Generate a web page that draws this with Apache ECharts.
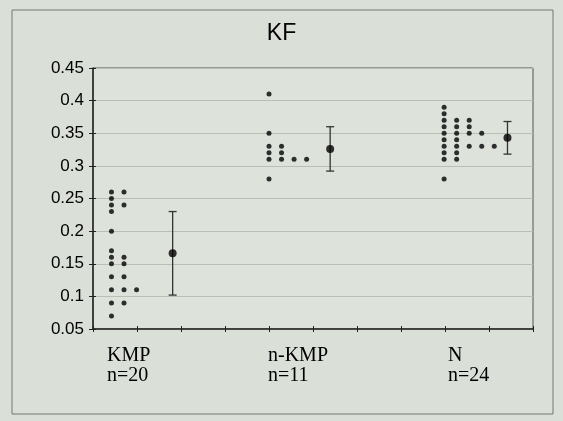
<!DOCTYPE html>
<html>
<head>
<meta charset="utf-8">
<script src="https://cdn.jsdelivr.net/npm/echarts@6/dist/echarts.min.js"></script>
<style>
	html, body { margin: 0; padding: 0; background: #e3e6e0; }
	#chart { width: 563px; height: 421px; }
</style>
</head>
<body>
<div id="chart"></div>
<script type="text/javascript">
	// values
	var groupNames = ['KMP', 'n-KMP', 'N'];
	var groupCounts = ['n=20', 'n=11', 'n=24'];
	var kmpValues = [0.26, 0.26, 0.25, 0.24, 0.24, 0.23, 0.20, 0.17, 0.16, 0.16,
		0.15, 0.15, 0.13, 0.13, 0.11, 0.11, 0.11, 0.09, 0.09, 0.07];
	var nkmpValues = [0.41, 0.35, 0.33, 0.33, 0.32, 0.32, 0.31, 0.31, 0.31, 0.31, 0.28];
	var nValues = [0.39, 0.38, 0.37, 0.37, 0.37, 0.36, 0.36, 0.36, 0.35, 0.35, 0.35, 0.35,
		0.34, 0.34, 0.33, 0.33, 0.33, 0.33, 0.33, 0.32, 0.32, 0.31, 0.31, 0.28];
	var groupStartX = [0.42, 4.0, 7.98];
	var dotStep = 0.285;
	var meanX = [1.81, 5.39, 9.42];
	var means = [0.166, 0.326, 0.343];
	var sds = [0.064, 0.034, 0.025];

	// dots with the same value go side by side
	var dots = [];
	[kmpValues, nkmpValues, nValues].forEach(function (vals, g) {
		var seen = {};
		vals.forEach(function (v) {
			var col = seen[v] || 0;
			seen[v] = col + 1;
			dots.push([groupStartX[g] + col * dotStep, v]);
		});
	});
	var meanData = means.map(function (m, i) { return [meanX[i], m, sds[i]]; });

	var myChart = echarts.init(document.getElementById('chart'));
	myChart.setOption({
		backgroundColor: '#dadfd7',
		animation: false,
		title: {
			text: 'KF',
			left: 'center',
			top: 17,
			textStyle: { fontFamily: 'Liberation Sans', fontSize: 23, fontWeight: 'normal', color: '#000' }
		},
		grid: {
			left: 93, right: 30, top: 68, bottom: 92,
			show: true, borderColor: '#555', borderWidth: 1, backgroundColor: '#dde2da'
		},
		xAxis: [{
			type: 'value', min: 0, max: 10, interval: 1,
			axisLine: { show: true, onZero: false, lineStyle: { color: '#222', width: 1.5 } },
			axisTick: { show: true, length: 3, lineStyle: { color: '#222' } },
			axisLabel: { show: false },
			splitLine: { show: false }
		}, {
			type: 'value', min: 0, max: 10, interval: 1, position: 'bottom',
			axisLine: { show: false },
			axisTick: { show: true, inside: true, length: 3, lineStyle: { color: '#222' } },
			axisLabel: { show: false },
			splitLine: { show: false }
		}],
		yAxis: [{
			type: 'value', min: 0.05, max: 0.45, interval: 0.05,
			axisLine: { show: true, onZero: false, lineStyle: { color: '#222', width: 1.5 } },
			axisTick: { show: true, length: 4, lineStyle: { color: '#222' } },
			axisLabel: {
				margin: 9, fontFamily: 'Liberation Sans', fontSize: 17, color: '#000',
				formatter: function (v) { return String(+v.toFixed(2)); }
			},
			splitLine: { show: true, lineStyle: { color: '#b9beb6', width: 1 } }
		}, {
			type: 'value', min: 0.05, max: 0.45, interval: 0.05, position: 'left',
			axisLine: { show: false },
			axisTick: { show: true, inside: true, length: 3, lineStyle: { color: '#222' } },
			axisLabel: { show: false },
			splitLine: { show: false }
		}],
		graphic: [{
			type: 'rect', silent: true, z: -1,
			shape: { x: 12, y: 10, width: 541, height: 404 },
			style: { fill: 'none', stroke: '#777', lineWidth: 1 }
		}].concat(groupNames.map(function (name, i) {
			var lefts = [107, 268, 448];
			return {
				type: 'text', left: lefts[i], top: 346,
				style: {
					text: name + '\n' + groupCounts[i],
					font: '20px "Liberation Serif"', lineHeight: 20, fill: '#000'
				}
			};
		})),
		series: [{
			type: 'scatter',
			data: dots,
			symbol: 'circle',
			symbolSize: 5,
			itemStyle: { color: '#000' }
		}, {
			type: 'custom',
			data: meanData,
			renderItem: function (params, api) {
				var x = api.value(0), m = api.value(1), s = api.value(2);
				var top = api.coord([x, m + s]);
				var bot = api.coord([x, m - s]);
				var st = { stroke: '#333', lineWidth: 1.3 };
				return {
					type: 'group',
					children: [
						{ type: 'line', shape: { x1: top[0], y1: top[1], x2: bot[0], y2: bot[1] }, style: st },
						{ type: 'line', shape: { x1: top[0] - 4, y1: top[1], x2: top[0] + 4, y2: top[1] }, style: st },
						{ type: 'line', shape: { x1: bot[0] - 4, y1: bot[1], x2: bot[0] + 4, y2: bot[1] }, style: st }
					]
				};
			}
		}, {
			type: 'scatter',
			data: meanData,
			symbol: 'circle',
			symbolSize: 8,
			itemStyle: { color: '#000' },
			z: 5
		}]
	});
</script>
</body>
</html>
